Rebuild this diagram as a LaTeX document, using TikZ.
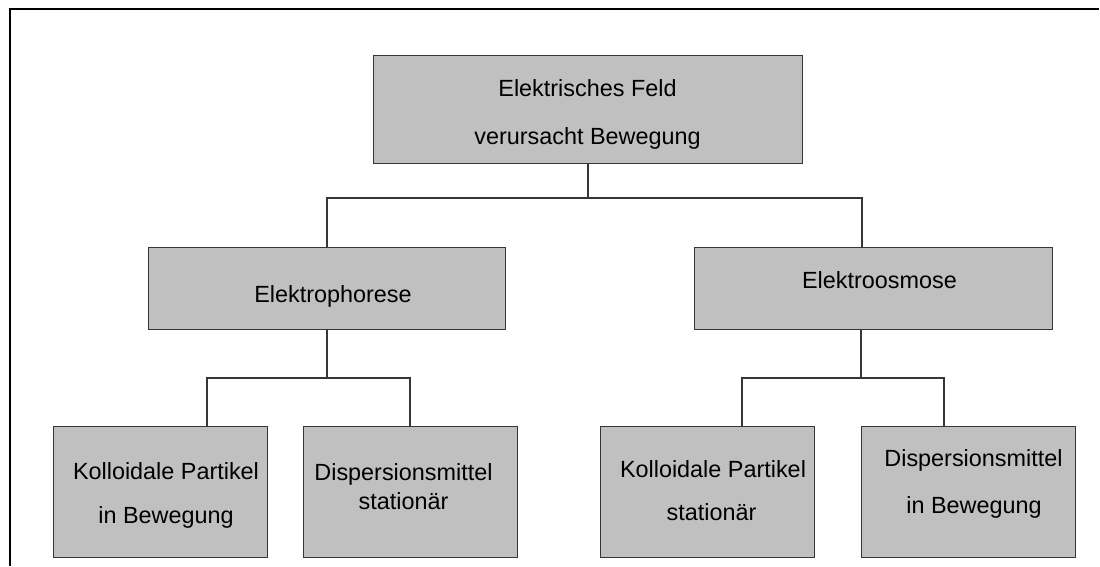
\documentclass[tikz,border=0pt]{standalone}
\usepackage{fontspec}
\setmainfont{Liberation Sans}
\definecolor{boxfill}{HTML}{C0C0C0}
\definecolor{boxline}{HTML}{363636}
\begin{document}
\begin{tikzpicture}[x=1pt,y=-1pt,
  box/.style={draw=boxline,fill=boxfill,line width=1.3pt,inner sep=0pt,
              minimum width=#1,anchor=north west},
  txt/.style={anchor=base,inner sep=0pt,font=\fontsize{23.4}{28}\selectfont},
  link/.style={draw=boxline,line width=1.3pt}]
\useasboundingbox (0,0) rectangle (1100,566);

% frame
\draw[line width=2.6pt] (10,566) -- (10,9) -- (1099,9);

% boxes
\node[box=429pt,minimum height=108pt] (top) at (373,55) {};
\node[box=357pt,minimum height=82pt] (ephor) at (148,247) {};
\node[box=358pt,minimum height=82pt] (eosm) at (694,247) {};
\node[box=214pt,minimum height=131pt] (b1) at (53,426) {};
\node[box=214pt,minimum height=131pt] (b2) at (303,426) {};
\node[box=214pt,minimum height=131pt] (b3) at (600,426) {};
\node[box=214pt,minimum height=131pt] (b4) at (861,426) {};

% labels
\node[txt] (t1a) at (587.5,96.7) {Elektrisches Feld};
\node[txt] (t1b) at (587.5,144) {verursacht Bewegung};
\node[txt] (t2) at (333,302) {Elektrophorese};
\node[txt] (t3) at (879.5,288) {Elektroosmose};
\node[txt] (t4a) at (166,479) {Kolloidale Partikel};
\node[txt] (t4b) at (166,523) {in Bewegung};
\node[txt] (t5a) at (403.5,480) {Dispersionsmittel};
\node[txt] (t5b) at (403.5,509) {stationär};
\node[txt] (t6a) at (713,477) {Kolloidale Partikel};
\node[txt] (t6b) at (711.5,520) {stationär};
\node[txt] (t7a) at (973.5,466) {Dispersionsmittel};
\node[txt] (t7b) at (974,513) {in Bewegung};

% junction points of the tree
\coordinate (j0) at (588,198);
\coordinate (inPhor) at (327,247);
\coordinate (inOsm) at (862,247);
\coordinate (outPhor) at (327,329);
\coordinate (outOsm) at (861,329);
\coordinate (j1) at (327,378);
\coordinate (j2) at (861,378);
\coordinate (in1) at (207,426);
\coordinate (in2) at (410,426);
\coordinate (in3) at (742,426);
\coordinate (in4) at (944,426);

% connectors
\draw[link] (top.south -| j0) -- (j0);
\draw[link] (j0) -| (inPhor);
\draw[link] (j0) -| (inOsm);
\draw[link] (outPhor) -- (j1);
\draw[link] (j1) -| (in1);
\draw[link] (j1) -| (in2);
\draw[link] (outOsm) -- (j2);
\draw[link] (j2) -| (in3);
\draw[link] (j2) -| (in4);
\end{tikzpicture}
\end{document}
